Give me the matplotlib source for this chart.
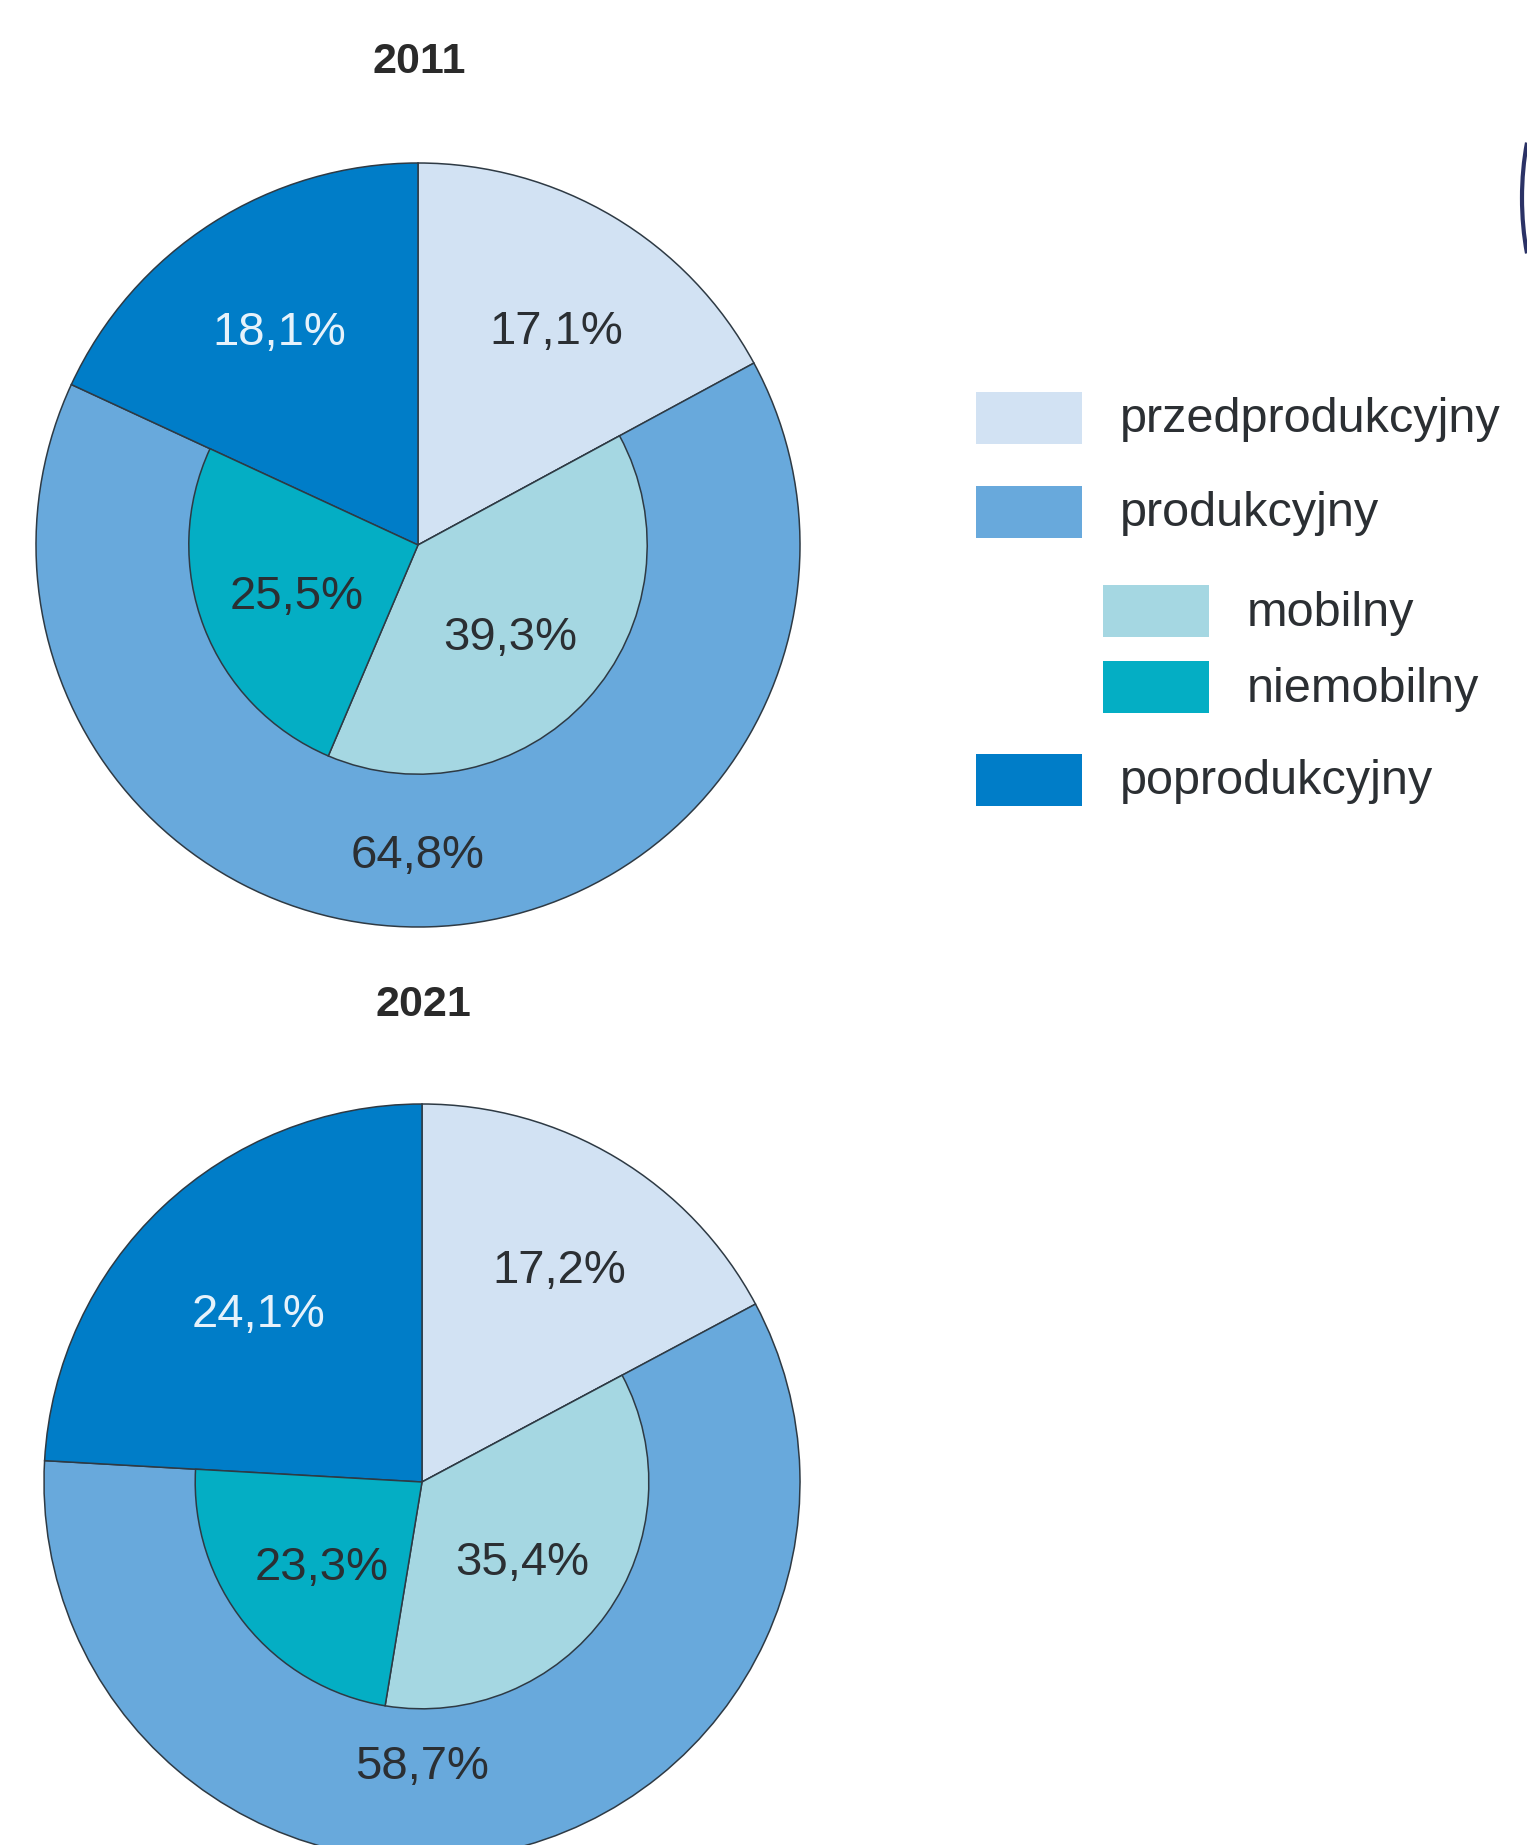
import numpy as np
import matplotlib
matplotlib.use("Agg")
from matplotlib import pyplot as plt
from matplotlib.patches import Rectangle, Arc

plt.rcParams['font.family'] = ['Liberation Sans', 'DejaVu Sans']

# dane
years = ['2011', '2021']
przed = [17.1, 17.2]
prod = [64.8, 58.7]
popro = [18.1, 24.1]
mobilny = [39.3, 35.4]
niemobilny = [25.5, 23.3]

legend_labels = ['przedprodukcyjny', 'produkcyjny', 'mobilny', 'niemobilny', 'poprodukcyjny']

c_przed = '#d2e2f3'
c_prod = '#68a9dc'
c_mob = '#a5d7e2'
c_niemob = '#04aec4'
c_popro = '#007dc8'
edge = '#2e3a44'
txt = '#2b2f33'

W, H = 1527, 1845
fig = plt.figure(figsize=(W / 100, H / 100), dpi=100)
fig.patch.set_facecolor('white')

# (srodek x, srodek y, promien) w pikselach
pies = [(418, 545, 382), (422, 1482, 378)]
title_y = [62, 1005]


def fmt(v):
    return f'{v:.1f}%'.replace('.', ',')


for i, (cx, cy, r) in enumerate(pies):
    ax = fig.add_axes([(cx - r) / W, 1 - (cy + r) / H, 2 * r / W, 2 * r / H])
    wp = dict(edgecolor=edge, linewidth=1.1)
    ax.pie([przed[i], prod[i], popro[i]], startangle=90, counterclock=False,
           colors=[c_przed, c_prod, c_popro], radius=1, wedgeprops=wp, frame=False)
    inner, _ = ax.pie([przed[i], mobilny[i], niemobilny[i], popro[i]], startangle=90,
                      counterclock=False, colors=[c_przed, c_mob, c_niemob, c_popro],
                      radius=0.6, wedgeprops=wp, frame=False)
    inner[0].set_visible(False)
    inner[3].set_visible(False)
    ax.set_xlim(-1, 1)
    ax.set_ylim(-1, 1)
    ax.set_aspect('equal')
    ax.axis('off')

    # etykiety
    a_przed = 90 - przed[i] * 3.6
    a_mob = a_przed - mobilny[i] * 3.6
    fs = 34
    dy = -0.015
    th = np.deg2rad(90 - przed[i] * 1.8)
    ax.text(0.667 * np.cos(th) + 0.02, 0.667 * np.sin(th) + dy, fmt(przed[i]),
            ha='center', va='center', fontsize=fs, color=txt)
    th = np.deg2rad(90 + popro[i] * 1.8)
    rr = 0.675 if i == 0 else 0.63
    ax.text(rr * np.cos(th), rr * np.sin(th) + dy, fmt(popro[i]),
            ha='center', va='center', fontsize=fs, color='#e6f2fb')
    th = np.deg2rad(a_przed - mobilny[i] * 1.8)
    ax.text(0.34 * np.cos(th) - 0.01, 0.34 * np.sin(th) + dy, fmt(mobilny[i]),
            ha='center', va='center', fontsize=fs, color=txt)
    th = np.deg2rad(a_mob - niemobilny[i] * 1.8)
    ax.text(0.34 * np.cos(th), 0.34 * np.sin(th) + dy, fmt(niemobilny[i]),
            ha='center', va='center', fontsize=fs, color=txt)
    rp = 0.8 if i == 0 else 0.74
    ax.text(0, -rp + dy, fmt(prod[i]),
            ha='center', va='center', fontsize=fs, color=txt)

    fig.text((cx + 1) / W, 1 - title_y[i] / H, years[i], ha='center', va='center',
             fontsize=31, fontweight='bold', color='#2a2a2a')

# legenda
lax = fig.add_axes([0, 0, 1, 1])
lax.set_xlim(0, W)
lax.set_ylim(H, 0)
lax.axis('off')
lax.patch.set_alpha(0)
leg_colors = [c_przed, c_prod, c_mob, c_niemob, c_popro]
leg_x = [976, 976, 1103, 1103, 976]
leg_y = [392, 486, 585, 661, 754]
for lab, col, x0, y0 in zip(legend_labels, leg_colors, leg_x, leg_y):
    lax.add_patch(Rectangle((x0, y0), 106, 52, facecolor=col, edgecolor='none'))
    lax.text(x0 + 144, y0 + 28, lab, ha='left', va='center', fontsize=35, color=txt)

# fragment obwodki przy prawej krawedzi
lax.add_patch(Arc((1593, 198), 142, 300, theta1=140, theta2=220,
                  edgecolor='#2b3266', linewidth=3))

fig.savefig('out.png', dpi=100)
